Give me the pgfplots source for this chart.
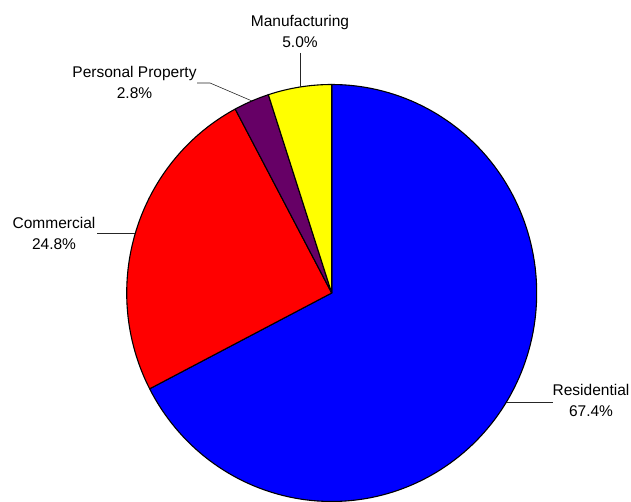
\documentclass[border=0pt]{standalone}
\usepackage{pgfplots}
\pgfplotsset{compat=1.18}
\usepackage{fontspec}
\setmainfont{Liberation Sans}
\definecolor{cRes}{RGB}{0,0,255}
\definecolor{cCom}{RGB}{255,0,0}
\definecolor{cPer}{RGB}{102,0,102}
\definecolor{cMan}{RGB}{255,255,0}
\tikzset{lbl/.style={font=\fontsize{15.5bp}{21bp}\selectfont, align=center, text=black, inner sep=0pt}}
% shares in percent
\def\vRes{67.4}
\def\vCom{24.8}
\def\vPer{2.8}
\def\vMan{5.0}
\pgfmathsetmacro\aRes{90-3.6*\vRes}
\pgfmathsetmacro\aCom{\aRes-3.6*\vCom}
\pgfmathsetmacro\aPer{\aCom-3.6*\vPer}
\pgfmathsetmacro\aMan{\aPer-3.6*\vMan}
\def\cx{331.7}
\def\cy{209}
\def\rx{205}
\def\ry{208.5}
\begin{document}
\begin{tikzpicture}
\path[use as bounding box] (0,0) rectangle (631bp,502bp);
\begin{axis}[
  at={(0,0)}, anchor=south west,
  width=631bp, height=502bp, scale only axis,
  xmin=0, xmax=631, ymin=0, ymax=502,
  hide axis, clip=false,
]
\addplot[fill=cRes, draw=black, line width=1.1pt, line join=round, domain=\aRes:90, samples=150, variable=\t]
  ({\cx+\rx*cos(t)},{\cy+\ry*sin(t)}) -- (axis cs:\cx,\cy) -- cycle;
\addplot[fill=cCom, draw=black, line width=1.1pt, line join=round, domain=\aCom:\aRes, samples=80, variable=\t]
  ({\cx+\rx*cos(t)},{\cy+\ry*sin(t)}) -- (axis cs:\cx,\cy) -- cycle;
\addplot[fill=cPer, draw=black, line width=1.1pt, line join=round, domain=\aPer:\aCom, samples=20, variable=\t]
  ({\cx+\rx*cos(t)},{\cy+\ry*sin(t)}) -- (axis cs:\cx,\cy) -- cycle;
\addplot[fill=cMan, draw=black, line width=1.1pt, line join=round, domain=\aMan:\aPer, samples=25, variable=\t]
  ({\cx+\rx*cos(t)},{\cy+\ry*sin(t)}) -- (axis cs:\cx,\cy) -- cycle;
% leader lines
\addplot[black!85, line width=0.6pt] coordinates {(300,449) (300,415)};
\addplot[black!85, line width=0.6pt] coordinates {(197,419) (210,419) (252,401)};
\addplot[black!85, line width=0.6pt] coordinates {(97,269) (135,269)};
\addplot[black!85, line width=0.6pt] coordinates {(507,100) (553,100)};
% labels
\node[lbl] at (axis cs:300,470.5) {Manufacturing\\5.0\%};
\node[lbl] at (axis cs:134.5,419.5) {Personal Property\\2.8\%};
\node[lbl] at (axis cs:54,269) {Commercial\\24.8\%};
\node[lbl] at (axis cs:591,101.5) {Residential\\67.4\%};
\end{axis}
\end{tikzpicture}
\end{document}
